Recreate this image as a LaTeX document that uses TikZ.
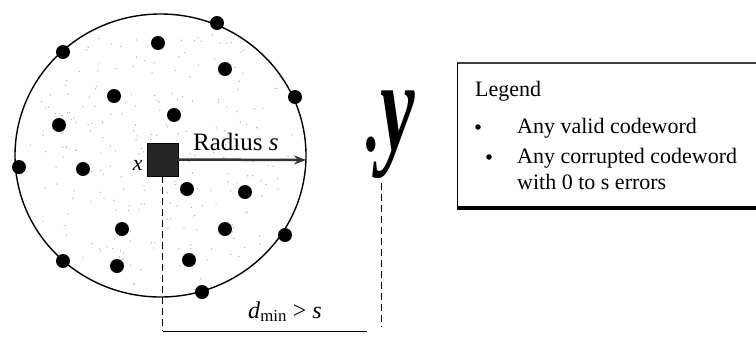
\documentclass[tikz,border=0pt]{standalone}
\usepackage{fontspec}
\setmainfont{Liberation Serif}
\usetikzlibrary{arrows.meta,positioning}

\begin{document}
\begin{tikzpicture}[x=1pt, y=-1pt,
      font=\fontsize{22}{26}\selectfont,
      cw/.style={circle, fill=black, inner sep=0pt, minimum size=14pt},
      speck/.style={fill=black!30},
      bul/.style={circle, fill=black, inner sep=0pt, minimum size=5.5pt},
      lbl/.style={inner sep=0pt, anchor=base west},
      ar/.style={-{Stealth[length=12pt, width=9pt]}, line width=2.5pt, black!80},
      dim/.style={thick, dash pattern=on 7pt off 4pt}]
    \useasboundingbox (0,0) rectangle (756,341);
    % sphere of radius s round x
    \coordinate (ctr) at (160.5,155.5);
    \pgfmathsetseed{11}
    \foreach \i in {1,...,260}{
      \pgfmathsetmacro{\ang}{360*rnd}
      \pgfmathsetmacro{\rr}{0.94*sqrt(rnd)}
      \fill[speck] ([shift={(\ang:{145*\rr} and {141*\rr})}]ctr) circle (0.7);
    }
    \draw[line width=1.4pt] (ctr) ellipse [x radius=145.5, y radius=141.5];
    \foreach \p [count=\k] in {(217,23),(63,52),(158,43),(225,69),(295,97),(114,96),
        (174,115),(59,125),(19,167),(83,169),(187,189),(245,192),(122,229),(225,229),
        (285,235),(63,261),(117,266),(189,260),(202,292)}
      \node[cw] (c\k) at \p {};
    \node[draw, fill=black!85, minimum width=31pt, minimum height=33pt, inner sep=0pt] (xw) at (162.5,159.5) {};
    \node[lbl, anchor=base east, left=4pt of xw.west, yshift=-6pt] (xlab) {\textit{x}};
    \coordinate (rim) at (306,160);
    \draw[ar] (xw.east) -- (rim);
    \node[lbl, font=\fontsize{25}{28}\selectfont] (rad) at (193,150) {Radius \textit{s}};
    % distance to y
    \coordinate (dl) at (162.5,331);
    \coordinate (dr) at (367,331);
    \draw[semithick] (dl) -- (dr);
    \draw[dim] (xw.south) -- (dl);
    \node[lbl, font=\fontsize{24}{28}\selectfont] (dmin) at (248,318) {\textit{d}\textsubscript{min} > \textit{s}};
    \node[lbl] (yw) at (361,150) {\scalebox{0.6}[1]{\fontsize{130}{130}\selectfont.\textbf{\textit{y}}}};
    \coordinate (yfoot) at (381,327);
    \draw[dim] ([yshift=-5pt]yfoot |- yw.south) -- (yfoot);
    % legend
    \coordinate (legnw) at (457,63);
    \coordinate (legsw) at (457,208);
    \draw[black!75, line width=1.5pt] (756,63) -- (legnw);
    \draw[line width=1pt] (legnw) -- (legsw);
    \draw[line width=3.5pt] (legsw) -- (756,208);
    \node[lbl] (leg) at (475,96) {Legend};
    \node[bul] (b1) at (478,127) {};
    \node[lbl] (t1) at (517,133) {Any valid codeword};
    \node[bul] (b2) at (489,157) {};
    \node[lbl, align=left] (t2) at (517,189) {Any corrupted codeword\\with 0 to s errors};
  \end{tikzpicture}
\end{document}
